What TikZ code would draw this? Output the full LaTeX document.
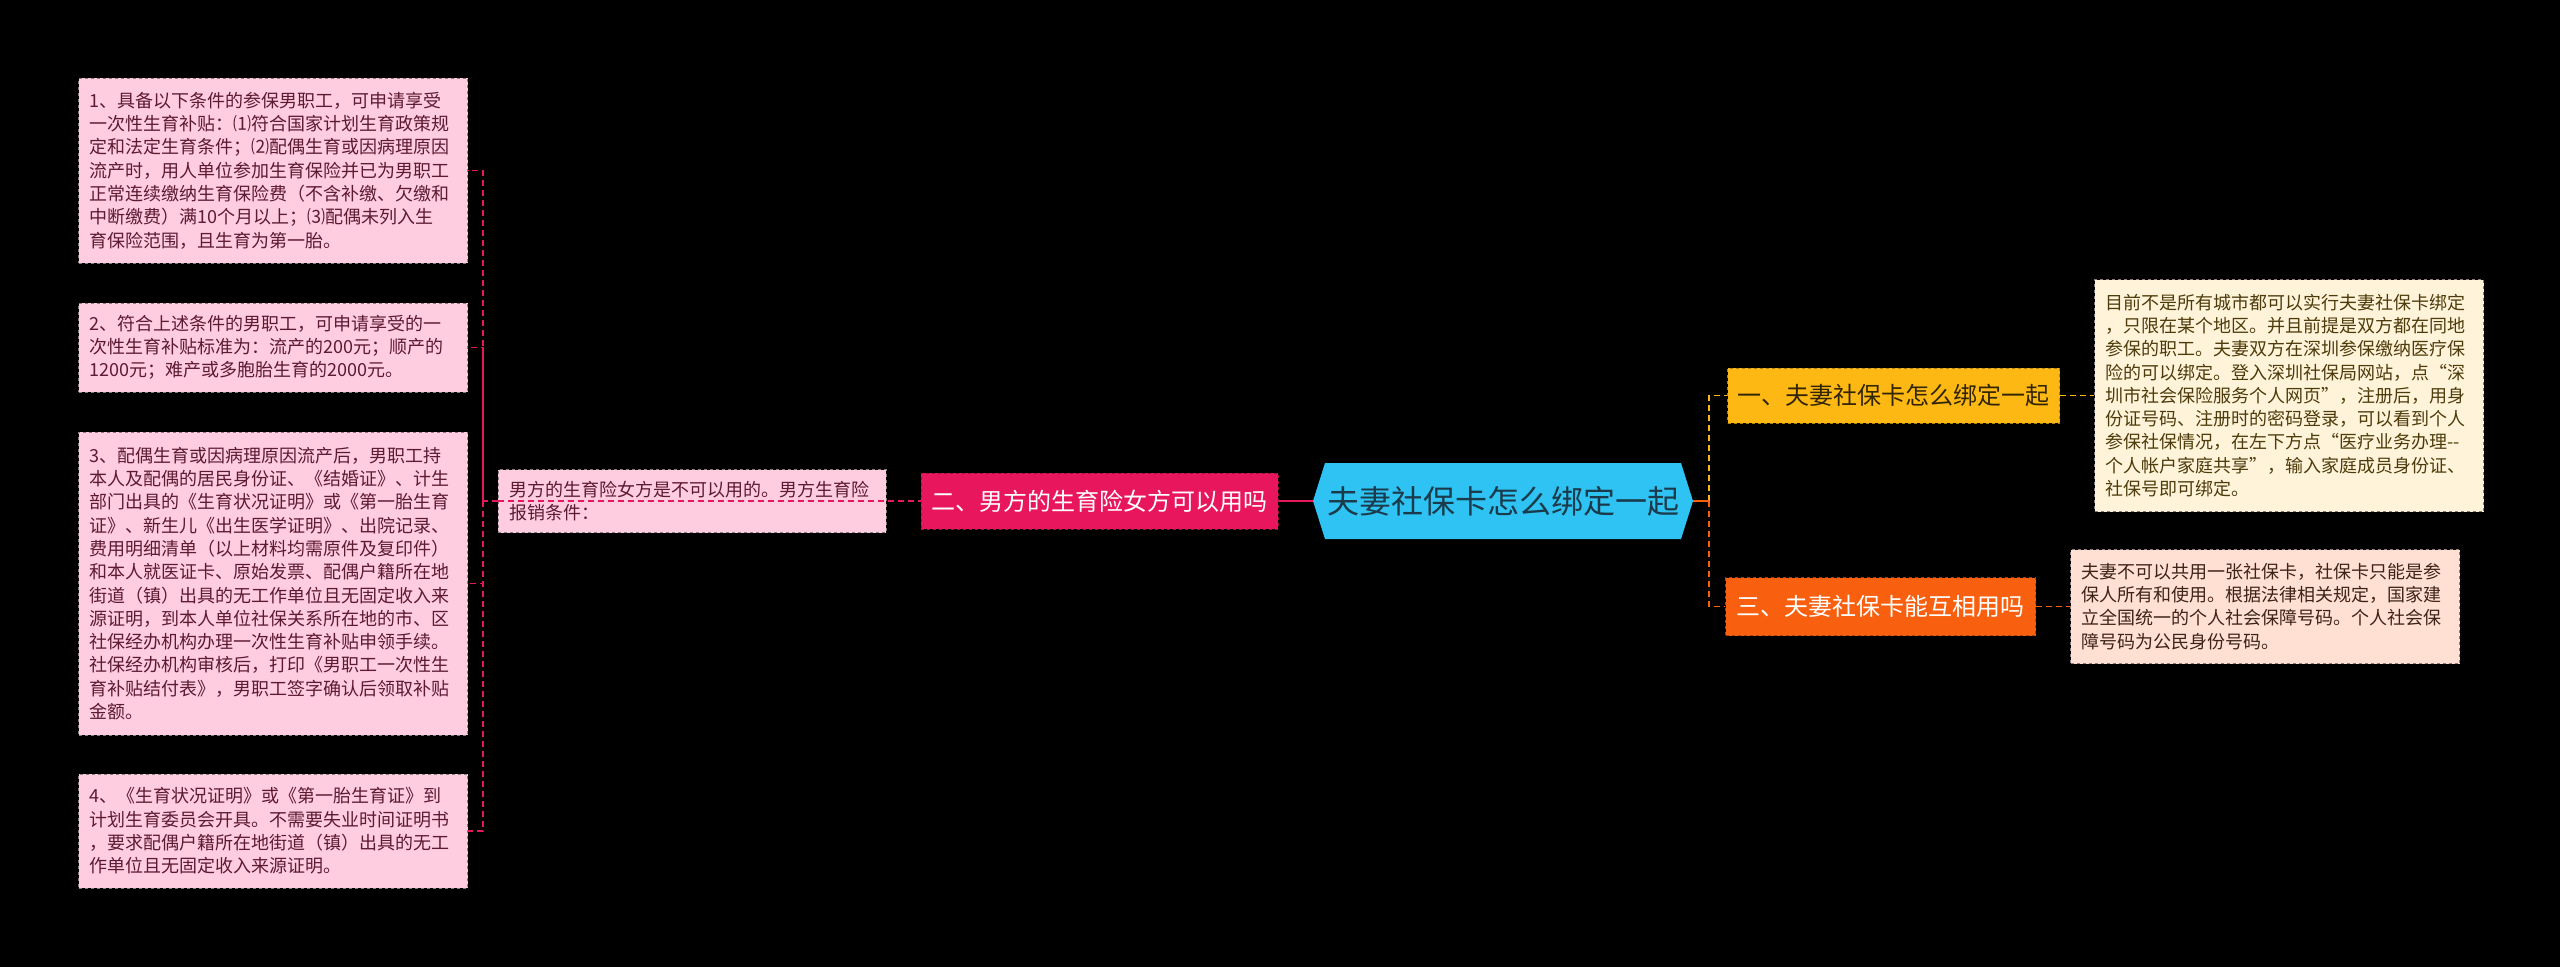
\documentclass[tikz,border=0pt]{standalone}
\usepackage{fontspec}
\setmainfont{Noto Sans CJK SC}
\usetikzlibrary{positioning, shapes.symbols}
\definecolor{rootblue}{HTML}{2EC3F2}
\definecolor{roottext}{HTML}{1B3B4C}
\definecolor{magbranch}{HTML}{E8175D}
\definecolor{goldbranch}{HTML}{FDB813}
\definecolor{orgbranch}{HTML}{F8600F}
\definecolor{pinkfill}{HTML}{FFCCE0}
\definecolor{pinktext}{HTML}{5C1A33}
\definecolor{creamfill}{HTML}{FFF4D9}
\definecolor{creamtext}{HTML}{4D3B0B}
\definecolor{peachfill}{HTML}{FFE0D2}
\definecolor{peachtext}{HTML}{3D2418}
\definecolor{edgegray}{HTML}{8A7B80}

\begin{document}
\begin{tikzpicture}[
  x=1pt, y=-1pt,
  node distance=34pt,
  leaf/.style={rectangle, draw=edgegray, dashed, line width=1pt, inner xsep=11pt, inner ysep=2pt, align=left, text width=367pt, font=\fontsize{18}{23.3}\selectfont},
  pinkleaf/.style={leaf, fill=pinkfill, text=pinktext},
  topic/.style={rectangle, dashed, line width=1pt, inner sep=0pt, minimum height=56pt, font=\fontsize{24}{28}\selectfont},
  leftlink/.style={magbranch, line width=1.5pt, dash pattern=on 6pt off 4pt},
  goldlink/.style={goldbranch, line width=1.5pt, dash pattern=on 6pt off 4pt},
  orglink/.style={orgbranch, line width=1.5pt, dash pattern=on 6pt off 4pt}
]
\fill[black] (0,0) rectangle (2560,967);

\node[signal, signal to=west and east, signal pointer angle=145, fill=rootblue, text=roottext, minimum width=380pt, minimum height=76pt, inner sep=0pt, font=\fontsize{32}{36}\selectfont] (root) at (1503,501) {夫妻社保卡怎么绑定一起};

\node[topic, fill=magbranch, draw=magbranch!70!black, text=white, minimum width=357pt, left=of root] (q2) {二、男方的生育险女方可以用吗};
\node[pinkleaf, minimum height=63pt, text width=366pt, left=of q2] (info) {男方的生育险女方是不可以用的。男方生育险\\报销条件：};

\node[pinkleaf, anchor=west, minimum height=185pt] (c1) at (78,170.5) {1、具备以下条件的参保男职工，可申请享受\\一次性生育补贴：⑴符合国家计划生育政策规\\定和法定生育条件；⑵配偶生育或因病理原因\\流产时，用人单位参加生育保险并已为男职工\\正常连续缴纳生育保险费（不含补缴、欠缴和\\中断缴费）满10个月以上；⑶配偶未列入生\\育保险范围，且生育为第一胎。};
\node[pinkleaf, anchor=west, minimum height=89pt] (c2) at (78,347.5) {2、符合上述条件的男职工，可申请享受的一\\次性生育补贴标准为：流产的200元；顺产的\\1200元；难产或多胞胎生育的2000元。};
\node[pinkleaf, anchor=west, minimum height=303pt] (c3) at (78,583.5) {3、配偶生育或因病理原因流产后，男职工持\\本人及配偶的居民身份证、《结婚证》、计生\\部门出具的《生育状况证明》或《第一胎生育\\证》、新生儿《出生医学证明》、出院记录、\\费用明细清单（以上材料均需原件及复印件）\\和本人就医证卡、原始发票、配偶户籍所在地\\街道（镇）出具的无工作单位且无固定收入来\\源证明，到本人单位社保关系所在地的市、区\\社保经办机构办理一次性生育补贴申领手续。\\社保经办机构审核后，打印《男职工一次性生\\育补贴结付表》，男职工签字确认后领取补贴\\金额。};
\node[pinkleaf, anchor=west, minimum height=114pt] (c4) at (78,831) {4、《生育状况证明》或《第一胎生育证》到\\计划生育委员会开具。不需要失业时间证明书\\，要求配偶户籍所在地街道（镇）出具的无工\\作单位且无固定收入来源证明。};

\node[topic, fill=goldbranch, draw=goldbranch!70!black, text=black!80!goldbranch, minimum width=332pt, minimum height=55pt, anchor=west] (q1) at (1727,395.5) {一、夫妻社保卡怎么绑定一起};
\node[leaf, fill=creamfill, text=creamtext, minimum height=232pt, right=of q1] (a1) {目前不是所有城市都可以实行夫妻社保卡绑定\\，只限在某个地区。并且前提是双方都在同地\\参保的职工。夫妻双方在深圳参保缴纳医疗保\\险的可以绑定。登入深圳社保局网站，点“深\\圳市社会保险服务个人网页”，注册后，用身\\份证号码、注册时的密码登录，可以看到个人\\参保社保情况，在左下方点“医疗业务办理-{}-\\个人帐户家庭共享”，输入家庭成员身份证、\\社保号即可绑定。};

\node[topic, fill=orgbranch, draw=orgbranch!70!black, text=white, minimum width=310pt, minimum height=58pt, anchor=west] (q3) at (1725,606.5) {三、夫妻社保卡能互相用吗};
\node[leaf, fill=peachfill, text=peachtext, minimum height=114pt, right=of q3] (a3) {夫妻不可以共用一张社保卡，社保卡只能是参\\保人所有和使用。根据法律相关规定，国家建\\立全国统一的个人社会保障号码。个人社会保\\障号码为公民身份号码。};

\coordinate (lj) at (483,501);
\coordinate (rj) at (1709,501);

\draw[magbranch, line width=2pt] (q2.east) -- (root.west);
\draw[leftlink] (info.west) -- (q2.west);
\draw[leftlink] (info.west) -- (lj) |- (c1.east);
\draw[leftlink] (lj) |- (c2.east);
\draw[leftlink] (lj) |- (c3.east);
\draw[leftlink] (lj) |- (c4.east);

\draw[goldlink] (rj) |- (q1.west);
\draw[orglink] (rj) |- (q3.west);
\draw[orgbranch, line width=2pt] (root.east) -- (rj);
\draw[goldlink] (q1.east) -- (a1.west);
\draw[orglink] (q3.east) -- (a3.west);
\end{tikzpicture}
\end{document}
